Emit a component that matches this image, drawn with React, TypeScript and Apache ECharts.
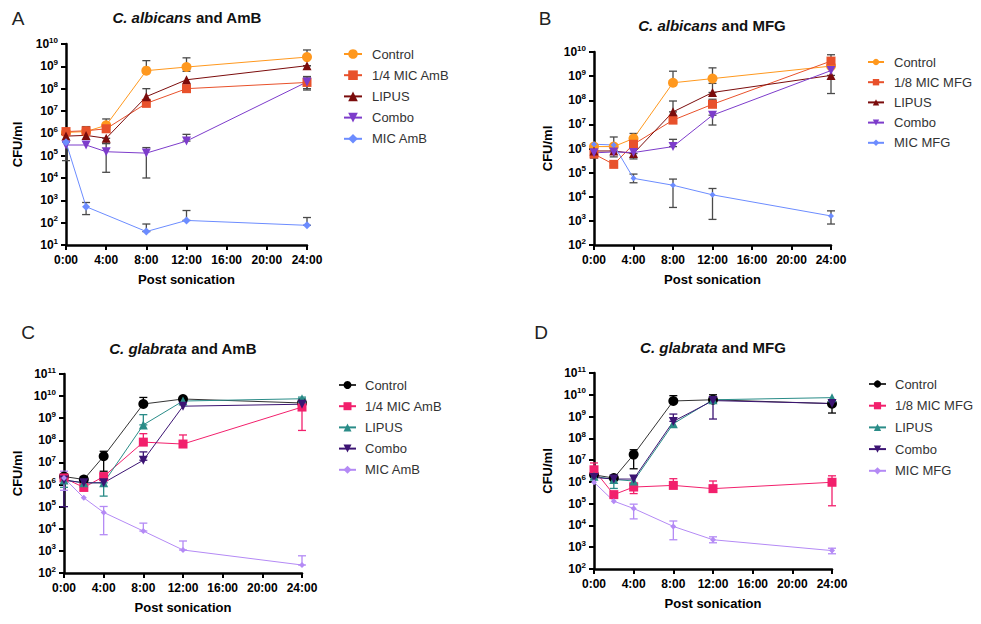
import * as echarts from "echarts"
import { useEffect, useRef } from "react"

// sampling times (hours after sonication) and axis tick labels
const hours = [0, 2, 4, 8, 12, 24]
const hourTicks = ["0:00", "4:00", "8:00", "12:00", "16:00", "20:00", "24:00"]

const namesAmB = ["Control", "1/4 MIC AmB", "LIPUS", "Combo", "MIC AmB"]
const namesMFG = ["Control", "1/8 MIC MFG", "LIPUS", "Combo", "MIC MFG"]

const albicansColors = ["#FF981E", "#E8512B", "#7B0C0C", "#7D3CCB", "#6C8CFF"]
const glabrataColors = ["#000000", "#F2206C", "#2A8C88", "#3C1473", "#B48AF5"]

type Pt = number | null
type Err = [number, number] | null

// A — C. albicans + AmB (CFU/ml)
const aControl: Pt[] = [1.1e6, 1.2e6, 2.3e6, 6.4e8, 9.3e8, 2.6e9]
const aQuarter: Pt[] = [1.2e6, 1.3e6, 1.6e6, 2.2e7, 1.0e8, 1.9e8]
const aLipus: Pt[] = [7.5e5, 8.1e5, 6.0e5, 4.4e7, 2.5e8, 1.07e9]
const aCombo: Pt[] = [3.0e5, 3.0e5, 1.5e5, 1.3e5, 4.5e5, 2.0e8]
const aMic: Pt[] = [4.0e5, 5.2e2, null, 40, 1.26e2, 76]

const aControlErr: Err[] = [[9e5, 1.5e6], [1e6, 2e6], [1.5e6, 4.4e6], [6.4e8, 1.8e9], [6e8, 2.4e9], [2.6e9, 5.4e9]]
const aQuarterErr: Err[] = [null, null, null, null, null, [8.7e7, 3e8]]
const aLipusErr: Err[] = [null, null, [3.5e5, 6e5], [3e7, 1e8], null, [1.07e9, 1.07e9]]
const aComboErr: Err[] = [null, null, [1.8e4, 3.5e5], [1e4, 2.3e5], [4.5e5, 9e5], [1e8, 3.5e8]]
const aMicErr: Err[] = [[6e4, 4e5], [2.3e2, 8e2], null, [40, 87], [1.26e2, 3.5e2], [76, 1.7e2]]

// B — C. albicans + MFG
const bControl: Pt[] = [1.2e6, 1.2e6, 2.6e6, 5.3e8, 7.9e8, 2.6e9]
const bEighth: Pt[] = [5.9e5, 2.2e5, 1.5e6, 1.5e7, 6.8e7, 4.2e9]
const bLipus: Pt[] = [7.9e5, 7.9e5, 6.2e5, 3.3e7, 2.1e8, 1.07e9]
const bCombo: Pt[] = [6.6e5, 7.2e5, 6.8e5, 1.2e6, 2.4e7, 1.7e9]
const bMic: Pt[] = [1.5e6, 1.4e6, 5.8e4, 3e4, 1.2e4, 1.6e3]

const bControlErr: Err[] = [null, null, [2.6e6, 4.2e6], [5.3e8, 1.6e9], [7.9e8, 2.2e9], [2.6e9, 7.7e9]]
const bEighthErr: Err[] = [[4e5, 5.9e5], [1.9e5, 2.6e5], [1e6, 2.5e6], null, [6.8e7, 1.1e8], null]
const bLipusErr: Err[] = [null, [4.5e5, 7.9e5], [3.7e5, 6.2e5], [3.3e7, 9.3e7], [2.1e8, 5e8], [1.9e8, 1.07e9]]
const bComboErr: Err[] = [null, null, null, [1.2e6, 2.4e6], [9.4e6, 2.4e7], null]
const bMicErr: Err[] = [null, [1.4e6, 3e6], [3.8e4, 8.7e4], [3.6e3, 5.4e4], [1.15e3, 2.2e4], [7.4e2, 2.6e3]]

// C — C. glabrata + AmB
const cControl: Pt[] = [2.3e6, 1.7e6, 1.9e7, 4.4e9, 7.4e9, 4.9e9]
const cQuarter: Pt[] = [2.0e6, 7.4e5, 2.3e6, 8.3e7, 6.8e7, 3.2e9]
const cLipus: Pt[] = [1.6e6, 1.2e6, 1.2e6, 5e8, 6e9, 7.6e9]
const cCombo: Pt[] = [1.6e6, 1.2e6, 1.2e6, 1.26e7, 3.5e9, 4.3e9]
const cMic: Pt[] = [2.0e6, 2.5e5, 5.5e4, 7.9e3, 1.1e3, 2.3e2]

const cControlErr: Err[] = [[1.6e6, 3e6], [1.2e6, 2.3e6], [4e6, 3.2e7], [4.4e9, 8.7e9], [6e9, 9e9], [4e9, 6e9]]
const cQuarterErr: Err[] = [null, [5.5e5, 7.4e5], [1.5e6, 3e6], [8.3e7, 2e8], [6.8e7, 1.75e8], [2.8e8, 4.5e9]]
const cLipusErr: Err[] = [[7.5e5, 1.6e6], null, [3e5, 1.2e6], [5e8, 1.45e9], null, [7.6e9, 9e9]]
const cComboErr: Err[] = [[1e5, 1.6e6], null, null, [1.26e7, 3e7], null, null]
const cMicErr: Err[] = [[5.5e5, 4e6], null, [5.4e3, 1.02e5], [7.9e3, 1.8e4], [1.1e3, 2.8e3], [2.3e2, 6e2]]

// D — C. glabrata + MFG
const dControl: Pt[] = [2.1e6, 1.5e6, 1.8e7, 5.2e9, 5.9e9, 3.9e9]
const dEighth: Pt[] = [3.6e6, 2.6e5, 5.8e5, 6.9e5, 4.9e5, 9.6e5]
const dLipus: Pt[] = [1.8e6, 1.3e6, 1.1e6, 4.7e8, 5.9e9, 7.4e9]
const dCombo: Pt[] = [1.6e6, 1.35e6, 1.35e6, 6e8, 5.4e9, 4.0e9]
const dMic: Pt[] = [9.6e5, 1.3e5, 6e4, 9e3, 2.2e3, 7e2]

const dControlErr: Err[] = [[2.1e6, 3.4e6], null, [4e6, 3e7], [5.2e9, 9.1e9], [5.9e9, 1e10], [1.45e9, 3.9e9]]
const dEighthErr: Err[] = [[3.6e6, 7.4e6], null, [2.9e5, 9e5], [6.9e5, 1.4e6], [4.9e5, 1.1e6], [8e4, 1.9e6]]
const dLipusErr: Err[] = [null, [5e5, 1.3e6], null, null, null, null]
const dComboErr: Err[] = [null, null, null, [6e8, 1.3e9], [7.7e8, 5.4e9], null]
const dMicErr: Err[] = [null, null, [2e4, 9.5e4], [2.2e3, 1.6e4], [1.6e3, 3e3], [5e2, 9e2]]

const symbols = ["circle", "rect", "triangle", "triangle", "diamond"]
const rotations = [0, 0, 0, 180, 0]
const symbolSizes = [10, 9, 9, 9, 8]

const FONT = "'Liberation Sans', Arial, sans-serif"

type Panel = {
  key: string
  letter: string
  species: string
  drug: string
  names: string[]
  colors: string[]
  values: Pt[][]
  errs: Err[][]
  errColor: string | null
  grid: { left: number; top: number; width: number; height: number }
  yRange: [number, number]
  yNameGap: number
  title: [number, number]
  letterPos: [number, number]
  legend: { left: number; top: number; gap: number; iconW: number; iconH: number; pad: number }
  micSize: number
}

const panels: Panel[] = [
  {
    key: "A", letter: "A", species: "C. albicans", drug: "AmB", names: namesAmB, colors: albicansColors,
    values: [aControl, aQuarter, aLipus, aCombo, aMic],
    errs: [aControlErr, aQuarterErr, aLipusErr, aComboErr, aMicErr],
    errColor: "#4a4a4a",
    grid: { left: 66, top: 44, width: 241, height: 201 }, yRange: [10, 1e10], yNameGap: 42,
    title: [187, 17], letterPos: [18, 18],
    legend: { left: 343, top: 47.5, gap: 8.2, iconW: 18, iconH: 12, pad: 5 }, micSize: 8,
  },
  {
    key: "B", letter: "B", species: "C. albicans", drug: "MFG", names: namesMFG, colors: albicansColors,
    values: [bControl, bEighth, bLipus, bCombo, bMic],
    errs: [bControlErr, bEighthErr, bLipusErr, bComboErr, bMicErr],
    errColor: "#4a4a4a",
    grid: { left: 594, top: 52, width: 237, height: 193 }, yRange: [100, 1e10], yNameGap: 40,
    title: [712, 25], letterPos: [545, 18],
    legend: { left: 867, top: 55.5, gap: 7.2, iconW: 16, iconH: 8, pad: 5 }, micSize: 6,
  },
  {
    key: "C", letter: "C", species: "C. glabrata", drug: "AmB", names: namesAmB, colors: glabrataColors,
    values: [cControl, cQuarter, cLipus, cCombo, cMic],
    errs: [cControlErr, cQuarterErr, cLipusErr, cComboErr, cMicErr],
    errColor: null,
    grid: { left: 64, top: 374, width: 238, height: 199 }, yRange: [100, 1e11], yNameGap: 40,
    title: [183, 348], letterPos: [28, 332],
    legend: { left: 338, top: 378.5, gap: 8.2, iconW: 17, iconH: 10, pad: 4 }, micSize: 6,
  },
  {
    key: "D", letter: "D", species: "C. glabrata", drug: "MFG", names: namesMFG, colors: glabrataColors,
    values: [dControl, dEighth, dLipus, dCombo, dMic],
    errs: [dControlErr, dEighthErr, dLipusErr, dComboErr, dMicErr],
    errColor: null,
    grid: { left: 594, top: 373, width: 238, height: 196 }, yRange: [100, 1e11], yNameGap: 40,
    title: [713, 347], letterPos: [541, 332],
    legend: { left: 868, top: 377.5, gap: 8.7, iconW: 17, iconH: 9, pad: 4 }, micSize: 6,
  },
]

export default function App() {
  const ref = useRef<HTMLDivElement>(null)

  useEffect(() => {
    if (!ref.current) return
    const chart = echarts.init(ref.current, undefined, { renderer: "svg" })

    const series: any[] = []
    const graphics: any[] = []

    panels.forEach((p, k) => {
      p.values.forEach((vals, s) => {
        const color = p.colors[s]
        const errColor = p.errColor ?? color
        const errData = p.errs[s]
          .map((e, i) => (e ? [hours[i], e[0], e[1]] : null))
          .filter(Boolean)
        // SD bars, drawn under the markers
        series.push({
          type: "custom",
          xAxisIndex: k,
          yAxisIndex: k,
          z: 1,
          silent: true,
          data: errData,
          encode: { x: 0, y: [1, 2] },
          renderItem: (_params: any, api: any) => {
            const x = api.value(0)
            const lo = api.coord([x, api.value(1)])
            const hi = api.coord([x, api.value(2)])
            const w = 4
            const style = { stroke: errColor, lineWidth: 1.3 }
            return {
              type: "group",
              children: [
                { type: "line", shape: { x1: lo[0], y1: lo[1], x2: hi[0], y2: hi[1] }, style },
                { type: "line", shape: { x1: hi[0] - w, y1: hi[1], x2: hi[0] + w, y2: hi[1] }, style },
                { type: "line", shape: { x1: lo[0] - w, y1: lo[1], x2: lo[0] + w, y2: lo[1] }, style },
              ],
            }
          },
        })
        series.push({
          type: "line",
          name: `${p.key}|${p.names[s]}`,
          xAxisIndex: k,
          yAxisIndex: k,
          z: 3,
          data: vals.map((v, i) => (v == null ? null : [hours[i], v])).filter(Boolean),
          symbol: symbols[s],
          symbolRotate: rotations[s],
          symbolSize: s === 4 ? p.micSize : symbolSizes[s],
          showAllSymbol: true,
          lineStyle: { color: k >= 2 && s === 0 ? "#333" : color, width: 1 },
          itemStyle: { color },
        })
      })

      graphics.push({
        type: "text",
        x: p.title[0],
        y: p.title[1],
        style: {
          text: `{i|${p.species}}{n| and ${p.drug}}`,
          align: "center",
          verticalAlign: "middle",
          rich: {
            i: { fontFamily: FONT, fontSize: 15, fontWeight: "bold", fontStyle: "italic", fill: "#111" },
            n: { fontFamily: FONT, fontSize: 15, fontWeight: "bold", fill: "#111" },
          },
        },
      })
      graphics.push({
        type: "text",
        x: p.letterPos[0],
        y: p.letterPos[1],
        style: {
          text: p.letter,
          fontFamily: FONT,
          fontSize: 19,
          fill: "#222",
          align: "center",
          verticalAlign: "middle",
        },
      })
    })

    const axisLine = { show: true, onZero: false, lineStyle: { color: "#000", width: 2.5 } }
    const axisTick = { show: true, length: 5, lineStyle: { color: "#000", width: 2 } }

    chart.setOption({
      animation: false,
      backgroundColor: "#fff",
      grid: panels.map((p) => ({ ...p.grid, containLabel: false })),
      xAxis: panels.map((_p, k) => ({
        type: "value",
        gridIndex: k,
        min: 0,
        max: 24,
        interval: 4,
        axisLine,
        axisTick,
        splitLine: { show: false },
        axisLabel: {
          formatter: (v: number) => hourTicks[Math.round(v / 4)],
          color: "#000",
          fontFamily: FONT,
          fontSize: 12,
          fontWeight: "bold",
          margin: 9,
        },
        name: "Post sonication",
        nameLocation: "middle",
        nameGap: 28,
        nameTextStyle: { color: "#000", fontFamily: FONT, fontSize: 13, fontWeight: "bold" },
      })),
      yAxis: panels.map((p, k) => ({
        type: "log",
        logBase: 10,
        gridIndex: k,
        min: p.yRange[0],
        max: p.yRange[1],
        splitNumber: 10,
        axisLine,
        axisTick,
        splitLine: { show: false },
        axisLabel: {
          formatter: (v: number) => `{b|10}{s|${Math.round(Math.log10(v))}}`,
          margin: 8,
          rich: {
            b: { fontFamily: FONT, fontSize: 12, fontWeight: "bold", color: "#000", lineHeight: 16 },
            s: { fontFamily: FONT, fontSize: 8, fontWeight: "bold", color: "#000", verticalAlign: "top", lineHeight: 16 },
          },
        },
        name: "CFU/ml",
        nameLocation: "middle",
        nameGap: p.yNameGap,
        nameRotate: 90,
        nameTextStyle: { color: "#000", fontFamily: FONT, fontSize: 13, fontWeight: "bold" },
      })),
      legend: panels.map((p) => ({
        data: p.names.map((n) => `${p.key}|${n}`),
        orient: "vertical",
        left: p.legend.left,
        top: p.legend.top,
        padding: 0,
        itemGap: p.legend.gap,
        itemWidth: p.legend.iconW,
        itemHeight: p.legend.iconH,
        selectedMode: false,
        formatter: (n: string) => n.split("|")[1],
        textStyle: { fontFamily: FONT, fontSize: 13, color: "#333", padding: [0, 0, 0, p.legend.pad] },
      })),
      graphic: graphics,
      series,
    })

    return () => chart.dispose()
  }, [])

  return (
    <div
      ref={ref}
      style={{ position: "fixed", left: 0, top: 0, width: 981, height: 624, background: "#fff" }}
    />
  )
}
